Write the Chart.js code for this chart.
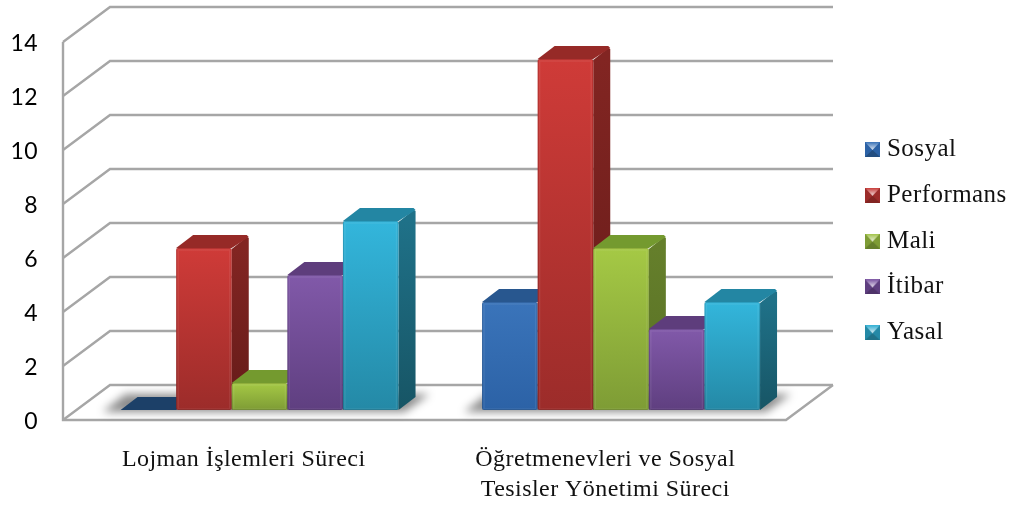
<!DOCTYPE html>
<html>
<head>
<meta charset="utf-8">
<script src="https://cdn.jsdelivr.net/npm/chart.js@4"></script>
<style>
  html, body { margin: 0; padding: 0; background: #fff; }
  canvas { display: block; }
</style>
</head>
<body>
<canvas id="myChart" width="1020" height="507"></canvas>
<script>
// chart values
var categories = [
  'Lojman İşlemleri Süreci',
  ['Öğretmenevleri ve Sosyal', 'Tesisler Yönetimi Süreci']
];
var sosyal = [0, 4];
var performans = [6, 13];
var mali = [1, 6];
var itibar = [5, 3];
var yasal = [7, 4];
var yTicks = [0, 2, 4, 6, 8, 10, 12, 14];

// front top, front bottom, top face, side top, side bottom
var blue = ['#3a74ba', '#2c62a6', '#28578f', '#234e80', '#1c4068'];
var red = ['#cf3b38', '#9c2c2a', '#962a27', '#822522', '#651b19'];
var green = ['#a5c945', '#7e9c35', '#749a2f', '#657f2b', '#586f25'];
var purple = ['#8159a9', '#5f3f80', '#5e3d7c', '#4f3369', '#412a57'];
var teal = ['#33b6dc', '#2489a6', '#2386a3', '#1f7188', '#175565'];

var gridColor = '#a6a6a6';
var wallX = 47, wallY = -35;   // floor and wall depth
var barShiftX = 15.8, barShiftY = -10;   // bars stand inside the floor
var depthX = 17, depthY = -13;   // depth of one bar

function makeSwatch(c) {
  var s = document.createElement('canvas');
  s.width = 15; s.height = 15;
  var g = s.getContext('2d');
  g.fillStyle = c[1]; g.fillRect(0, 0, 15, 15);
  g.fillStyle = c[3];
  g.beginPath(); g.moveTo(0, 15); g.lineTo(7.5, 8); g.lineTo(15, 15); g.fill();
  var grad = g.createLinearGradient(0, 0, 0, 8);
  grad.addColorStop(0, c[0]);
  grad.addColorStop(1, '#ffffff');
  g.globalAlpha = 0.85;
  g.fillStyle = grad;
  g.beginPath(); g.moveTo(0, 0); g.lineTo(15, 0); g.lineTo(7.5, 8); g.fill();
  g.globalAlpha = 1;
  return s;
}

function frontFill(colors) {
  return function (c) {
    var y = c.chart.scales.y;
    if (!c.parsed || !y) return colors[0];
    var y0 = y.getPixelForValue(c.parsed.y), y1 = y.getPixelForValue(0);
    // scales are not placed yet the first time the legend asks for a colour
    if (!isFinite(y0) || !isFinite(y1)) return colors[0];
    var grad = c.chart.ctx.createLinearGradient(0, y0, 0, y1);
    grad.addColorStop(0, colors[0]);
    grad.addColorStop(1, colors[1]);
    return grad;
  };
}

function poly(ctx, pts, fill) {
  ctx.beginPath();
  ctx.moveTo(pts[0][0], pts[0][1]);
  for (var i = 1; i < pts.length; i++) ctx.lineTo(pts[i][0], pts[i][1]);
  ctx.closePath();
  ctx.fillStyle = fill;
  ctx.fill();
}

function drawWalls(chart) {
  var ctx = chart.ctx, a = chart.chartArea, y = chart.scales.y;
  ctx.save();
  ctx.strokeStyle = gridColor;
  ctx.lineWidth = 2.4;
  ctx.lineJoin = 'miter';
  // wall lines for each tick
  y.ticks.forEach(function (t) {
    var py = y.getPixelForValue(t.value);
    ctx.beginPath();
    ctx.moveTo(a.left, py);
    ctx.lineTo(a.left + wallX, py + wallY);
    ctx.lineTo(a.right + wallX, py + wallY);
    ctx.stroke();
  });
  // floor outline and axis
  ctx.beginPath();
  ctx.moveTo(a.left, a.top);
  ctx.lineTo(a.left, a.bottom);
  ctx.lineTo(a.right, a.bottom);
  ctx.lineTo(a.right + wallX, a.bottom + wallY);
  ctx.stroke();
  // soft shadow under each group of bars
  var base = y.getPixelForValue(0) + barShiftY;
  categories.forEach(function (c, i) {
    var first = chart.getDatasetMeta(0).data[i];
    var last = chart.getDatasetMeta(4).data[i];
    var x0 = first.x - first.width / 2 + barShiftX;
    var x1 = last.x + last.width / 2 + barShiftX;
    ctx.save();
    ctx.filter = 'blur(4px)';
    poly(ctx, [[x0 - 18, base + 2], [x0 + 5, base - 16], [x1 + 31, base - 16], [x1 + 6, base + 2]], 'rgba(0,0,0,0.45)');
    ctx.restore();
  });
  ctx.restore();
}

function drawDepth(ctx, meta, index) {
  var colors = palette[index];
  meta.data.forEach(function (bar, i) {
    var x0 = bar.x - bar.width / 2, x1 = bar.x + bar.width / 2;
    var flat = series[index][i] === 0;
    var grad = ctx.createLinearGradient(0, bar.y, 0, bar.base);
    grad.addColorStop(0, colors[3]);
    grad.addColorStop(1, colors[4]);
    poly(ctx, [[x1, bar.y + 1], [x1 + depthX - 2, bar.y + depthY + 2], [x1 + depthX, bar.y + depthY + 3], [x1 + depthX, bar.base + depthY], [x1, bar.base]], grad);
    poly(ctx, [[x0, bar.y], [x0 + depthX, bar.y + depthY], [x1 + depthX - 2, bar.y + depthY], [x1 + depthX, bar.y + depthY + 2], [x1, bar.y]],
      flat ? colors[4] : colors[2]);
  });
}

function drawBevel(ctx, meta) {
  meta.data.forEach(function (bar) {
    var h = bar.base - bar.y;
    if (h <= 0) return;
    var x0 = bar.x - bar.width / 2;
    ctx.strokeStyle = 'rgba(255,255,255,0.07)';
    ctx.lineWidth = 1.5;
    ctx.strokeRect(x0 + 2, bar.y + 2, bar.width - 4, h - 3);
    ctx.strokeStyle = 'rgba(0,0,0,0.12)';
    ctx.lineWidth = 1;
    ctx.strokeRect(x0 + 0.5, bar.y + 0.5, bar.width - 1, h - 1);
  });
}

var cube = {
  id: 'cube',
  afterLayout: function (chart) {
    // legend block sits to the right of the floor
    var lg = chart.legend;
    lg.left = 849.7; lg.right = 1020;
    lg.top = 116.2; lg.bottom = 507;
  },
  beforeDraw: function (chart) {
    // the serif labels are set a little wide
    chart.ctx.letterSpacing = '0.45px';
  },
  beforeDatasetsDraw: function (chart) {
    var ctx = chart.ctx;
    drawWalls(chart);
    // bars go left to right so each front covers the side of its neighbour
    ctx.save();
    ctx.translate(barShiftX, barShiftY);
    series.forEach(function (values, i) {
      var meta = chart.getDatasetMeta(i);
      drawDepth(ctx, meta, i);
      meta.controller.draw();
      drawBevel(ctx, meta);
    });
    ctx.restore();
    return false;
  }
};

var palette = [blue, red, green, purple, teal];
var names = ['Sosyal', 'Performans', 'Mali', 'İtibar', 'Yasal'];
var series = [sosyal, performans, mali, itibar, yasal];

var ctx = document.getElementById('myChart');
var chart = new Chart(ctx, {
  type: 'bar',
  plugins: [cube],
  data: {
    labels: categories,
    datasets: series.map(function (values, i) {
      return {
        label: names[i],
        data: values,
        backgroundColor: frontFill(palette[i]),
        borderWidth: 0,
        borderRadius: 2,
        borderSkipped: false,
        categoryPercentage: 0.769,
        barPercentage: 1
      };
    })
  },
  options: {
    responsive: false,
    animation: false,
    layout: { padding: { left: 0, top: 42, right: 234, bottom: 0 } },
    scales: {
      x: {
        grid: { display: false },
        border: { display: false },
        afterFit: function (s) { s.height = 87; },
        ticks: {
          padding: 17,
          maxRotation: 0,
          color: '#111',
          font: { family: '"Liberation Serif"', size: 24, lineHeight: 1.25 }
        }
      },
      y: {
        min: 0,
        max: 14,
        grid: { display: false },
        border: { display: false },
        afterFit: function (s) { s.width = 63; },
        afterBuildTicks: function (s) { s.ticks = yTicks.map(function (v) { return { value: v }; }); },
        ticks: {
          padding: 17,
          labelOffset: 2,
          color: '#000',
          font: { family: 'Lato', size: 23 }
        }
      }
    },
    plugins: {
      tooltip: { enabled: false },
      legend: {
        position: 'chartArea',
        align: 'start',
        labels: {
          usePointStyle: true,
          boxWidth: 4,
          boxHeight: 15,
          padding: 20.8,
          color: '#111',
          font: { family: '"Liberation Serif"', size: 25 },
          generateLabels: function (c) {
            return Chart.defaults.plugins.legend.labels.generateLabels(c).map(function (item) {
              item.pointStyle = makeSwatch(palette[item.datasetIndex]);
              return item;
            });
          }
        }
      }
    }
  }
});
</script>
</body>
</html>
